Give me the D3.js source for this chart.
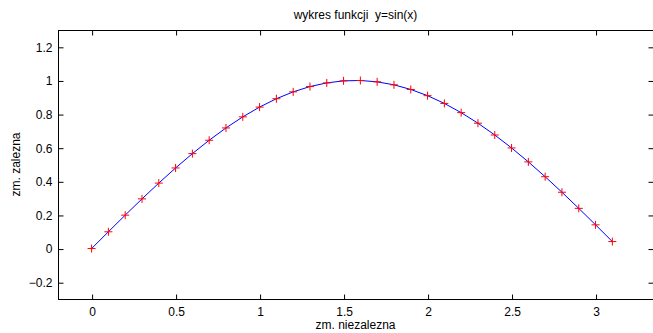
<!DOCTYPE html>
<html><head><meta charset="utf-8">
<script src="https://cdn.jsdelivr.net/npm/d3@7"></script>
<style>
html,body{margin:0;padding:0;background:#fff;overflow:hidden}
text{font-family:"Liberation Sans",Arial,Helvetica,sans-serif;fill:#000;white-space:pre}
</style></head>
<body><svg id="c" width="653" height="333"></svg>
<script>
const xValues = [0,0.1,0.2,0.3,0.4,0.5,0.6,0.7,0.8,0.9,1.0,1.1,1.2,1.3,1.4,1.5,1.6,1.7,1.8,1.9,2.0,2.1,2.2,2.3,2.4,2.5,2.6,2.7,2.8,2.9,3.0,3.1];
const yValues = [0,0.0998,0.1987,0.2955,0.3894,0.4794,0.5646,0.6442,0.7174,0.7833,0.8415,0.8912,0.9320,0.9636,0.9854,0.9975,0.9996,0.9917,0.9738,0.9463,0.9093,0.8632,0.8085,0.7457,0.6755,0.5985,0.5155,0.4274,0.3350,0.2392,0.1411,0.0416];
const xTicks = [0,0.5,1,1.5,2,2.5,3];
const yTicks = [-0.2,0,0.2,0.4,0.6,0.8,1,1.2];
const titleText = "wykres funkcji  y=sin(x)";
const xLabel = "zm. niezalezna";
const yLabel = "zm. zalezna";

const L = 58, T = 30, R = 653, B = 299;
const svg = d3.select("#c");
const x = d3.scaleLinear().domain([-0.2, 3.342]).range([L, R]);
const y = d3.scaleLinear().domain([-0.3, 1.3]).range([B, T]);
const fmt = v => (v < 0 ? "\u2212" : "") + d3.format("~g")(Math.abs(v));

// box
svg.append("rect").attr("x", L + 0.5).attr("y", T + 0.5).attr("width", R - L).attr("height", B - T)
  .attr("fill", "none").attr("stroke", "#000").attr("stroke-width", 1);

const tl = 5;
const gx = svg.append("g").attr("transform", `translate(0.5,${B + 0.5})`)
  .call(d3.axisBottom(x).tickValues(xTicks).tickSize(-tl).tickPadding(9).tickFormat(fmt));
gx.select(".domain").remove();
gx.selectAll("text").attr("font-size", 12).attr("dy", "0.71em").attr("y", 8);
const gxt = svg.append("g").attr("transform", `translate(0.5,${T + 0.5})`)
  .call(d3.axisTop(x).tickValues(xTicks).tickSize(-tl).tickFormat(""));
gxt.select(".domain").remove();
const gy = svg.append("g").attr("transform", `translate(${L + 0.5},0.5)`)
  .call(d3.axisLeft(y).tickValues(yTicks).tickSize(-tl).tickPadding(6).tickFormat(fmt));
gy.select(".domain").remove();
gy.selectAll("text").attr("font-size", 12);
const gyr = svg.append("g").attr("transform", `translate(${R + 0.5},0.5)`)
  .call(d3.axisRight(y).tickValues(yTicks).tickSize(-tl).tickFormat(""));
gyr.select(".domain").remove();
svg.selectAll(".tick line").attr("stroke", "#000");
svg.selectAll(".tick text").attr("fill", "#000").attr("font-family", "'Liberation Sans',Arial,sans-serif");

const pts = xValues.map((v, i) => [v, yValues[i]]);
svg.append("path").datum(pts)
  .attr("d", d3.line().x(d => x(d[0])).y(d => y(d[1])))
  .attr("fill", "none").attr("stroke", "#0000ff").attr("stroke-width", 1);

const m = 4;
const g = svg.append("g");
pts.forEach(d => {
  const cx = x(d[0]), cy = y(d[1]);
  g.append("path").attr("d", `M${cx - m},${cy}H${cx + m}M${cx},${cy - m}V${cy + m}`)
    .attr("stroke", "#ff0000").attr("stroke-width", 1).attr("fill", "none");
});

svg.append("text").attr("x", (L + R) / 2).attr("y", 19).attr("text-anchor", "middle")
  .attr("font-size", 12).attr("xml:space", "preserve").text(titleText);
svg.append("text").attr("x", (L + R) / 2).attr("y", 329).attr("text-anchor", "middle")
  .attr("font-size", 12).text(xLabel);
svg.append("text").attr("transform", `translate(20,${(T + B) / 2}) rotate(-90)`)
  .attr("text-anchor", "middle").attr("font-size", 12).text(yLabel);
</script></body></html>
